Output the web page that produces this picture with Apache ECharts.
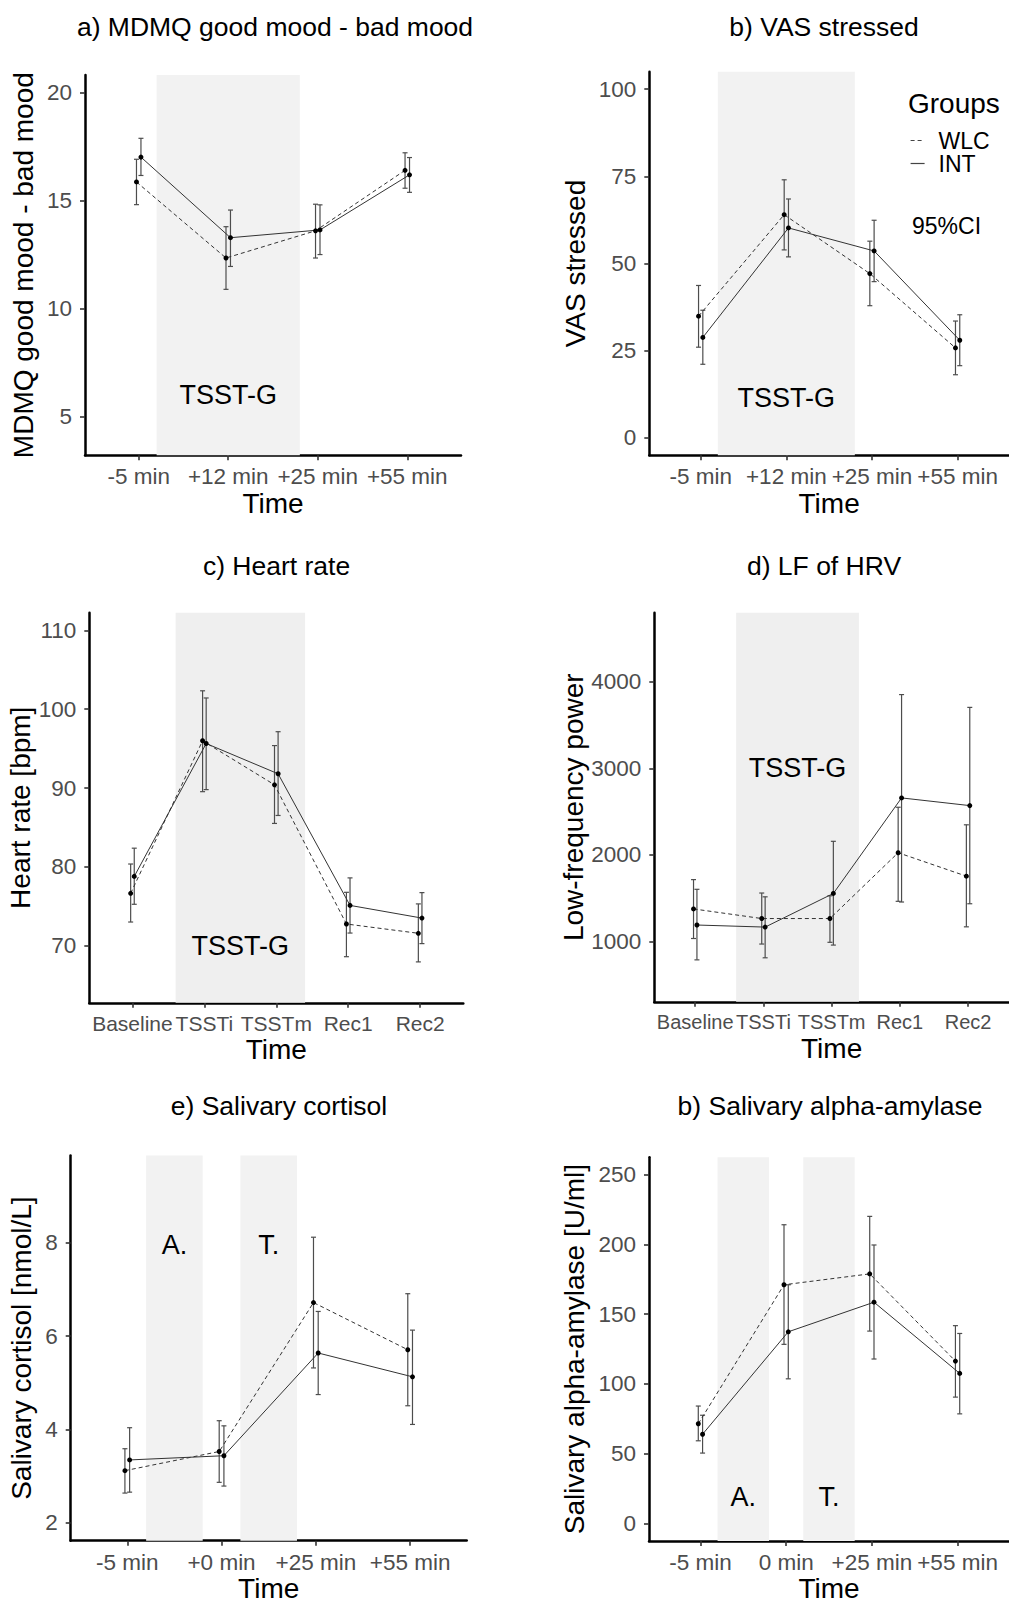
<!DOCTYPE html>
<html>
<head>
<meta charset="utf-8">
<title>TSST-G outcomes</title>
<script src="https://cdn.jsdelivr.net/npm/echarts@6/dist/echarts.min.js"></script>
<style>
  html, body { margin: 0; padding: 0; background: #fff; }
  #chart { width: 1009px; height: 1606px; }
</style>
</head>
<body>
<div id="chart"></div>
<script>
// a) MDMQ good mood - bad mood
const moodTimes = ['-5 min', '+12 min', '+25 min', '+55 min'];
const moodTicks = [5, 10, 15, 20];
const moodWLC = [15.85, 12.33, 13.59, 16.39];
const moodWLCLow = [14.8, 10.88, 12.33, 15.56];
const moodWLCHigh = [16.9, 13.78, 14.82, 17.2];
const moodINT = [17.0, 13.27, 13.63, 16.18];
const moodINTLow = [16.15, 11.94, 12.49, 15.37];
const moodINTHigh = [17.87, 14.55, 14.79, 16.98];

// b) VAS stressed
const vasTimes = ['-5 min', '+12 min', '+25 min', '+55 min'];
const vasTicks = [0, 25, 50, 75, 100];
const vasWLC = [34.9, 64.0, 47.1, 25.8];
const vasWLCLow = [26.0, 53.9, 37.9, 18.1];
const vasWLCHigh = [43.7, 74.0, 56.4, 33.5];
const vasINT = [28.8, 60.2, 53.6, 28.0];
const vasINTLow = [21.1, 51.9, 44.8, 20.7];
const vasINTHigh = [36.6, 68.5, 62.4, 35.3];

// c) Heart rate
const hrTimes = ['Baseline', 'TSSTi', 'TSSTm', 'Rec1', 'Rec2'];
const hrTicks = [70, 80, 90, 100, 110];
const hrWLC = [76.64, 96.0, 90.41, 72.75, 71.57];
const hrWLCLow = [73.0, 89.54, 85.51, 68.6, 67.94];
const hrWLCHigh = [80.36, 102.34, 95.39, 76.77, 75.3];
const hrINT = [78.79, 95.65, 91.81, 75.11, 73.5];
const hrINTLow = [75.25, 89.8, 86.52, 71.6, 70.26];
const hrINTHigh = [82.37, 101.43, 97.15, 78.6, 76.73];

// d) LF of HRV
const lfTimes = ['Baseline', 'TSSTi', 'TSSTm', 'Rec1', 'Rec2'];
const lfTicks = [1000, 2000, 3000, 4000];
const lfWLC = [1374, 1263, 1263, 2024, 1753];
const lfWLCLow = [1032, 968, 988, 1462, 1167];
const lfWLCHigh = [1713, 1558, 1526, 2550, 2347];
const lfINT = [1188, 1164, 1553, 2658, 2569];
const lfINTLow = [785, 809, 956, 1454, 1434];
const lfINTHigh = [1601, 1514, 2156, 3853, 3705];

// e) Salivary cortisol
const cortTimes = ['-5 min', '+0 min', '+25 min', '+55 min'];
const cortTicks = [2, 4, 6, 8];
const cortWLC = [3.12, 3.53, 6.72, 5.71];
const cortWLCLow = [2.64, 2.87, 5.32, 4.51];
const cortWLCHigh = [3.59, 4.19, 8.12, 6.91];
const cortINT = [3.35, 3.44, 5.64, 5.13];
const cortINTLow = [2.66, 2.79, 4.75, 4.11];
const cortINTHigh = [4.04, 4.08, 6.53, 6.13];

// f) Salivary alpha-amylase
const amyTimes = ['-5 min', '0 min', '+25 min', '+55 min'];
const amyTicks = [0, 50, 100, 150, 200, 250];
const amyWLC = [71.5, 171.1, 178.9, 116.4];
const amyWLCLow = [59.3, 128.4, 137.9, 90.6];
const amyWLCHigh = [84.2, 214.1, 220.1, 141.8];
const amyINT = [64.0, 137.4, 158.6, 107.6];
const amyINTLow = [50.5, 103.7, 117.9, 78.6];
const amyINTHigh = [77.6, 171.1, 199.6, 136.2];

const FONT = '"Liberation Sans", Arial, Helvetica, sans-serif';
const DODGE = 0.025;

// layout of the six panels (pixel boxes)
const panels = [
  { title: 'a) MDMQ good mood - bad mood', tx: 275, ty: 27,
    box: [85, 75, 376, 380.3], yRange: [3.2, 20.8], ticks: moodTicks, yName: 'MDMQ good mood - bad mood', yGap: 48,
    times: moodTimes, xFont: 22.5, wlc: [moodWLC, moodWLCLow, moodWLCHigh], int: [moodINT, moodINTLow, moodINTHigh],
    bands: [[1.2, 2.8]], shade: '#f2f2f2', notes: [[2, 6, 'TSST-G']] },
  { title: 'b) VAS stressed', tx: 824, ty: 27,
    box: [649.3, 71.7, 366.4, 383.6], yRange: [-5, 105], ticks: vasTicks, yName: 'VAS stressed', yGap: 60,
    times: vasTimes, xFont: 22.5, wlc: [vasWLC, vasWLCLow, vasWLCHigh], int: [vasINT, vasINTLow, vasINTHigh],
    bands: [[1.2, 2.8]], shade: '#f2f2f2', notes: [[2, 11.5, 'TSST-G']] },
  { title: 'c) Heart rate', tx: 276.5, ty: 566,
    box: [89.3, 612.7, 374, 390.1], yRange: [62.75, 112.25], ticks: hrTicks, yName: 'Heart rate [bpm]', yGap: 55,
    times: hrTimes, xFont: 21, wlc: [hrWLC, hrWLCLow, hrWLCHigh], int: [hrINT, hrINTLow, hrINTHigh],
    bands: [[1.6, 3.4]], shade: '#efefef', notes: [[2.5, 70, 'TSST-G']] },
  { title: 'd) LF of HRV', tx: 824, ty: 566,
    box: [654.3, 612.7, 362.7, 389.1], yRange: [300, 4800], ticks: lfTicks, yName: 'Low-frequency power', yGap: 66.5,
    times: lfTimes, xFont: 20, wlc: [lfWLC, lfWLCLow, lfWLCHigh], int: [lfINT, lfINTLow, lfINTHigh],
    bands: [[1.6, 3.4]], shade: '#efefef', notes: [[2.5, 3000, 'TSST-G']] },
  { title: 'e) Salivary cortisol', tx: 279, ty: 1106,
    box: [70.7, 1155.5, 396, 385.2], yRange: [1.62, 9.87], ticks: cortTicks, yName: 'Salivary cortisol [nmol/L]', yGap: 35.5,
    times: cortTimes, xFont: 22.5, wlc: [cortWLC, cortWLCLow, cortWLCHigh], int: [cortINT, cortINTLow, cortINTHigh],
    bands: [[1.2, 1.8], [2.2, 2.8]], shade: '#f2f2f2', notes: [[1.5, 7.95, 'A.'], [2.5, 7.95, 'T.']] },
  { title: 'b) Salivary alpha-amylase', tx: 830, ty: 1106,
    box: [649, 1157.2, 367.7, 383.8], yRange: [-12.5, 262.5], ticks: amyTicks, yName: 'Salivary alpha-amylase [U/ml]', yGap: 60.5,
    times: amyTimes, xFont: 22.5, wlc: [amyWLC, amyWLCLow, amyWLCHigh], int: [amyINT, amyINTLow, amyINTHigh],
    bands: [[1.2, 1.8], [2.2, 2.8]], shade: '#f2f2f2', notes: [[1.5, 19, 'A.'], [2.5, 19, 'T.']] }
];

function renderErrorBar(params, api) {
  const x = api.value(0);
  const lo = api.coord([x, api.value(1)]);
  const hi = api.coord([x, api.value(2)]);
  const cap = 2.5;
  const style = { stroke: '#4d4d4d', lineWidth: 1.2 };
  return {
    type: 'group',
    children: [
      { type: 'line', shape: { x1: lo[0], y1: lo[1], x2: hi[0], y2: hi[1] }, style: style },
      { type: 'line', shape: { x1: hi[0] - cap, y1: hi[1], x2: hi[0] + cap, y2: hi[1] }, style: style },
      { type: 'line', shape: { x1: lo[0] - cap, y1: lo[1], x2: lo[0] + cap, y2: lo[1] }, style: style }
    ]
  };
}

const grid = [], xAxis = [], yAxis = [], series = [], titles = [];

panels.forEach((p, i) => {
  const n = p.times.length;
  const pos = p.times.map((t, k) => k + 1);

  titles.push({
    text: p.title, left: p.tx, top: p.ty - 13.7, textAlign: 'center', padding: 0,
    textStyle: { fontFamily: FONT, fontSize: 26.5, fontWeight: 'normal', color: '#000' }
  });

  grid.push({ left: p.box[0], top: p.box[1], width: p.box[2], height: p.box[3], containLabel: false });

  xAxis.push({
    type: 'value', gridIndex: i, min: 0.4, max: n + 0.6,
    name: 'Time', nameLocation: 'middle', nameGap: 33,
    nameTextStyle: { fontFamily: FONT, fontSize: 28, color: '#000', verticalAlign: 'top' },
    axisLine: { onZero: false, lineStyle: { color: '#000', width: 2.5 } },
    axisTick: { show: true, customValues: pos, length: 5, lineStyle: { color: '#333', width: 1.6 } },
    axisLabel: {
      customValues: pos, margin: 10, fontFamily: FONT, fontSize: p.xFont, color: '#4d4d4d',
      hideOverlap: false, showMinLabel: true, showMaxLabel: true,
      formatter: v => p.times[Math.round(v) - 1]
    },
    splitLine: { show: false }
  });

  yAxis.push({
    type: 'value', gridIndex: i, min: p.yRange[0], max: p.yRange[1],
    name: p.yName, nameLocation: 'middle', nameGap: p.yGap,
    nameTextStyle: { fontFamily: FONT, fontSize: 28, color: '#000' },
    axisLine: { show: true, onZero: false, lineStyle: { color: '#000', width: 2.5 } },
    axisTick: { show: true, customValues: p.ticks, length: 5, lineStyle: { color: '#333', width: 1.6 } },
    axisLabel: {
      customValues: p.ticks, margin: 13, fontFamily: FONT, fontSize: 22.5, color: '#4d4d4d',
      hideOverlap: false, showMinLabel: true, showMaxLabel: true,
      formatter: v => String(v)
    },
    splitLine: { show: false }
  });

  // shaded TSST-G windows and their labels
  series.push({
    type: 'line', xAxisIndex: i, yAxisIndex: i, data: [], silent: true, z: 0,
    markArea: {
      silent: true,
      itemStyle: { color: p.shade },
      data: p.bands.map(b => [{ xAxis: b[0] }, { xAxis: b[1] }])
    },
    markPoint: {
      silent: true,
      symbol: 'circle', symbolSize: 1,
      itemStyle: { color: 'rgba(0,0,0,0)' },
      label: { show: true, position: 'inside', fontFamily: FONT, fontSize: 27, color: '#000',
               formatter: prm => prm.data.value },
      data: p.notes.map(t => ({ coord: [t[0], t[1]], value: t[2] }))
    }
  });

  const groups = [['WLC', p.wlc, -DODGE, [4, 3]], ['INT', p.int, DODGE, 'solid']];
  // lines first so the legend picks up their line style
  groups.forEach(([name, vals, off, dash]) => {
    series.push({
      name: name, type: 'line', xAxisIndex: i, yAxisIndex: i, z: 3, silent: true,
      symbol: 'circle', symbolSize: 5,
      itemStyle: { color: '#000' },
      lineStyle: { color: '#333', width: 1, type: dash },
      data: pos.map((x, k) => [x + off, vals[0][k]])
    });
  });
  groups.forEach(([name, vals, off]) => {
    series.push({
      name: name + ' 95%CI', type: 'custom', xAxisIndex: i, yAxisIndex: i, z: 2, silent: true,
      renderItem: renderErrorBar,
      encode: { x: 0, y: [1, 2] },
      data: pos.map((x, k) => [x + off, vals[1][k], vals[2][k]])
    });
  });
});

titles.push({
  text: 'Groups', left: 908, top: 89.5, padding: 0,
  textStyle: { fontFamily: FONT, fontSize: 28, fontWeight: 'normal', color: '#000' }
});
titles.push({
  text: '95%CI', left: 912, top: 214, padding: 0,
  textStyle: { fontFamily: FONT, fontSize: 23, fontWeight: 'normal', color: '#000' }
});

const chart = echarts.init(document.getElementById('chart'), null, { renderer: 'svg' });
chart.setOption({
  backgroundColor: '#fff',
  animation: false,
  title: titles,
  legend: {
    data: ['WLC', 'INT'],
    orient: 'vertical', left: 910, top: 129, padding: 0,
    itemWidth: 14, itemHeight: 12, itemGap: 0,
    selectedMode: false,
    itemStyle: { color: 'rgba(0,0,0,0)', borderColor: 'rgba(0,0,0,0)', borderWidth: 0 },
    lineStyle: { color: '#444', width: 1.2 },
    textStyle: { fontFamily: FONT, fontSize: 23, color: '#000', lineHeight: 22, padding: [0, 0, 0, 9] }
  },
  grid: grid,
  xAxis: xAxis,
  yAxis: yAxis,
  series: series
});
</script>
</body>
</html>
